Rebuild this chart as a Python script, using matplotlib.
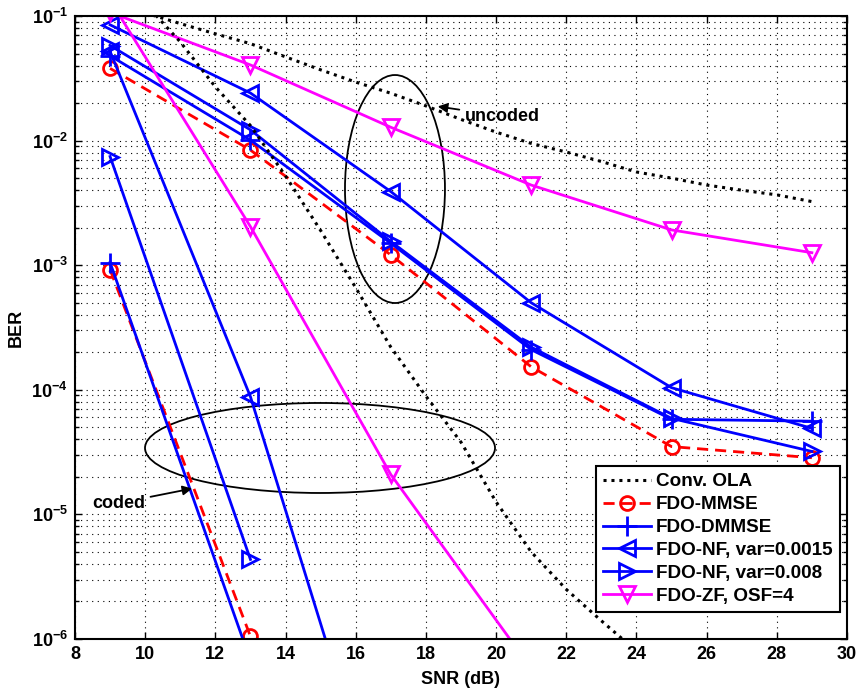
import math

import matplotlib
matplotlib.use("Agg")
import matplotlib.pyplot as plt
from matplotlib.patches import Ellipse
from matplotlib.ticker import FixedLocator, FuncFormatter, LogLocator, NullFormatter

plt.rcParams["font.family"] = ["Liberation Sans", "DejaVu Sans"]
plt.rcParams["font.weight"] = "bold"
plt.rcParams["mathtext.fontset"] = "custom"
plt.rcParams["mathtext.rm"] = "Liberation Sans"
plt.rcParams["mathtext.bf"] = "Liberation Sans:bold"

# SNR points (dB)
snr = [9, 13, 17, 21, 25, 29]
snr_cod = [9, 13, 17, 21]
snr_ola_unc = list(range(10, 30))
snr_ola_cod = list(range(10, 25))

# uncoded BER
ola_unc = [0.106, 0.087, 0.072, 0.060, 0.047, 0.037, 0.0295, 0.024, 0.019, 0.0148,
           0.0117, 9.5e-3, 8.1e-3, 6.8e-3, 5.6e-3, 5.0e-3, 4.4e-3, 4.0e-3, 3.67e-3, 3.24e-3]
mmse_unc = [0.038, 8.4e-3, 1.21e-3, 1.53e-4, 3.5e-5, 2.85e-5]
dmmse_unc = [0.048, 0.0101, 1.5e-3, 2.1e-4, 5.8e-5, 5.6e-5]
nf15_unc = [0.085, 0.0241, 3.9e-3, 5.0e-4, 1.04e-4, 4.9e-5]
nf8_unc = [0.058, 0.0122, 1.55e-3, 2.2e-4, 5.9e-5, 3.2e-5]
zf_unc = [0.107, 0.0405, 0.0128, 4.4e-3, 1.92e-3, 1.26e-3]

# coded BER
ola_cod = [0.126, 0.062, 0.027, 0.0132, 5.2e-3, 1.9e-3, 6.6e-4, 2.2e-4, 8.9e-5, 3.8e-5,
           1.26e-5, 5.0e-6, 2.5e-6, 1.4e-6, 8.0e-7]
mmse_cod = [9.2e-4, 1.05e-6]
dmmse_cod = [1.05e-3, 6.7e-7]
nf15_cod = [0.052, 8.8e-5, 2e-8]
nf8_cod = [7.45e-3, 4.35e-6]
zf_cod = [0.134, 2.04e-3, 2.09e-5, 5.8e-7]

fig = plt.figure(figsize=(8.61, 6.91), dpi=100)
ax = fig.add_axes([0.0871, 0.0753, 0.8966, 0.9015])

lw = 2
mew = 2
dots = (0, (1, 1.6))
dash = (0, (4, 2.5))

st_mmse = dict(color="red", ls=dash, lw=lw, marker="o", ms=10, mfc="none", mew=mew)
st_dmmse = dict(color="blue", ls="-", lw=lw, marker="+", ms=14, mew=mew)
st_nf15 = dict(color="blue", ls="-", lw=lw, marker="<", ms=12, mfc="none", mew=mew)
st_nf8 = dict(color="blue", ls="-", lw=lw, marker=">", ms=12, mfc="none", mew=mew)
st_zf = dict(color="magenta", ls="-", lw=lw, marker="v", ms=12, mfc="none", mew=mew)

ax.semilogy(snr_ola_unc, ola_unc, color="black", ls=dots, lw=2.2, label="Conv. OLA")
ax.semilogy(snr, mmse_unc, label="FDO-MMSE", **st_mmse)
ax.semilogy(snr, dmmse_unc, label="FDO-DMMSE", **st_dmmse)
ax.semilogy(snr, nf15_unc, label="FDO-NF, var=0.0015", **st_nf15)
ax.semilogy(snr, nf8_unc, label="FDO-NF, var=0.008", **st_nf8)
ax.semilogy(snr, zf_unc, label="FDO-ZF, OSF=4", **st_zf)

ax.semilogy(snr_ola_cod, ola_cod, color="black", ls=dots, lw=2.2)
ax.semilogy(snr_cod[:2], mmse_cod, **st_mmse)
ax.semilogy(snr_cod[:2], dmmse_cod, **st_dmmse)
ax.semilogy(snr_cod[:3], nf15_cod, **st_nf15)
ax.semilogy(snr_cod[:2], nf8_cod, **st_nf8)
ax.semilogy(snr_cod, zf_cod, **st_zf)

ax.set_xlim(8, 30)
ax.set_ylim(1e-6, 1e-1)
ax.xaxis.set_major_locator(FixedLocator(range(8, 31, 2)))
ax.yaxis.set_major_locator(LogLocator(base=10, numticks=10))
ax.yaxis.set_minor_locator(LogLocator(base=10, subs=range(2, 10), numticks=20))
ax.yaxis.set_minor_formatter(NullFormatter())
ax.yaxis.set_major_formatter(FuncFormatter(
    lambda v, p: r"$\mathbf{10^{%d}}$" % round(math.log10(v))))

ax.grid(True, which="major", color="black", ls=(0, (1, 4)), lw=0.8)
ax.grid(True, which="minor", axis="y", color="black", ls=(0, (1, 4)), lw=0.8)
ax.tick_params(which="both", direction="in", top=True, right=True, labelsize=13, width=1)
ax.tick_params(which="major", length=5, pad=5)
ax.tick_params(which="minor", length=3)
for s in ax.spines.values():
    s.set_linewidth(1.5)

ax.set_xlabel("SNR (dB)", fontsize=13, fontweight="bold", labelpad=6)
ax.set_ylabel("BER", fontsize=13, fontweight="bold", labelpad=5)

# ellipses around the two groups
ax.add_patch(Ellipse((0.4145, 0.7223), 0.1295, 0.366, transform=ax.transAxes,
                     fill=False, ec="black", lw=1.3))
ax.add_patch(Ellipse((0.3174, 0.3066), 0.4534, 0.1445, transform=ax.transAxes,
                     fill=False, ec="black", lw=1.3))

ax.annotate("uncoded", xy=(0.4663, 0.8555), xycoords="axes fraction",
            xytext=(0.505, 0.8395), textcoords="axes fraction",
            ha="left", va="center", fontsize=13,
            arrowprops=dict(arrowstyle="-|>", color="black", lw=1.3, mutation_scale=14))
ax.annotate("coded", xy=(0.1554, 0.2424), xycoords="axes fraction",
            xytext=(0.0907, 0.218), textcoords="axes fraction",
            ha="right", va="center", fontsize=13,
            arrowprops=dict(arrowstyle="-|>", color="black", lw=1.3, mutation_scale=14))

leg = ax.legend(loc="lower right", bbox_to_anchor=(0.991, 0.0433), fontsize=13.6,
                fancybox=False, edgecolor="black", framealpha=1, borderaxespad=0,
                handlelength=2.5, labelspacing=0.3, borderpad=0.38, handletextpad=0.3)
leg.get_frame().set_linewidth(1.5)

fig.savefig("out.png", dpi=100)
